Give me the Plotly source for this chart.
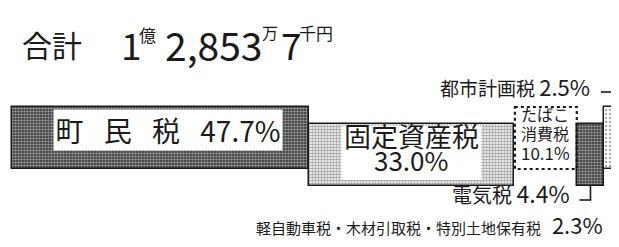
import plotly.graph_objects as go

# ---- data ----
categories = ["町民税", "固定資産税", "たばこ消費税", "電気税", "都市計画税",
              "軽自動車税・木材引取税・特別土地保有税"]
shares = [47.7, 33.0, 10.1, 4.4, 2.5, 2.3]
share_labels = ["47.7%", "33.0%", "10.1%", "4.4%", "2.5%", "2.3%"]
total_parts = ["合計", "1", "億", "2,853", "万", "7", "千円"]

# ---- style / layout ----
W, H = 619, 247
PX0, PXPER = 4.0, 6.22          # pixel of 0%, pixels per %
FONT = "Noto Sans CJK JP"
INK = "#1a1a1a"
UP_C, DOWN_C, THICK = 130.0, 146.5, 62.0
level = ["up", "down", "up", "down", "up", "down"]
pat_shape = [".", ".", "", ".", ".", "/"]
pat_fg = ["#ffffff", "#9a9a9a", "#ffffff", "#ffffff", "#8a8a8a", "#777777"]
pat_bg = ["#2a2a2a", "#ffffff", "#ffffff", "#2a2a2a", "#ffffff", "#ffffff"]
pat_size = [3, 3, 4, 3, 4, 5]
pat_sol = [0.6, 0.55, 0.3, 0.6, 0.25, 0.3]
line_w = [1.5, 1.5, 0, 1.5, 1.5, 1.5]

starts = []
acc = 0.0
for s in shares:
    starts.append(acc)
    acc += s
mids = [st + s / 2 for st, s in zip(starts, shares)]
ycent = [UP_C if lv == "up" else DOWN_C for lv in level]

fig = go.Figure()
fig.add_trace(go.Bar(
    orientation="h",
    y=ycent, x=shares, base=starts, width=[THICK] * len(shares),
    marker=dict(
        color=pat_bg,
        line=dict(color=INK, width=line_w),
        pattern=dict(shape=pat_shape, fgcolor=pat_fg, bgcolor=pat_bg,
                     size=pat_size, solidity=pat_sol, fillmode="overlay"),
    ),
    hoverinfo="skip", showlegend=False,
))

shapes = []
ann = []

def top(i):
    return ycent[i] - THICK / 2

def bot(i):
    return ycent[i] + THICK / 2

# dotted border for たばこ
shapes.append(dict(type="rect", xref="x", yref="y", x0=starts[2] + 0.15, x1=starts[2] + shares[2],
                   y0=top(2), y1=bot(2), line=dict(color=INK, width=2.2, dash="dot"),
                   layer="above"))

# 町民税 label (white box)
ann.append(dict(x=mids[0], y=122, xref="x", yref="y", xshift=8, yanchor="middle",
                text="町\u2002 民\u2002 税\u2002 " + share_labels[0],
                showarrow=False, bgcolor="white", width=226, height=38, borderpad=1,
                font=dict(family=FONT, size=28, color=INK)))

# 固定資産税 label (white box + two lines)
shapes.append(dict(type="rect", xref="x", yref="y", xsizemode="pixel", xanchor=mids[1],
                   x0=-70, x1=70, y0=118, y1=172, fillcolor="white",
                   line=dict(width=0), layer="above"))
ann.append(dict(x=mids[1], y=127, xref="x", yref="y", yanchor="middle", text=categories[1],
                showarrow=False, font=dict(family=FONT, size=27, color=INK)))
ann.append(dict(x=mids[1], y=151, xref="x", yref="y", yanchor="middle", text=share_labels[1],
                showarrow=False, font=dict(family=FONT, size=26, color=INK)))

# たばこ消費税 label
for txt, yy, fs in [("たばこ", 106, 16), ("消費税", 125, 16), (share_labels[2], 144, 17)]:
    ann.append(dict(x=mids[2], y=yy, xref="x", yref="y", yanchor="middle", text=txt,
                    showarrow=False, font=dict(family=FONT, size=fs, color=INK)))

# leader-line labels
def leader(i, y_line, x_off, label, fs_cjk, fs_num, y_text, shift, gap=" "):
    y_edge = top(i) if y_line < ycent[i] else bot(i)
    shapes.append(dict(type="line", xref="x", yref="y", x0=mids[i], x1=mids[i],
                       y0=y_edge, y1=y_line, line=dict(color=INK, width=1.6), layer="above"))
    shapes.append(dict(type="line", xref="x", yref="y", xsizemode="pixel", xanchor=mids[i],
                       x0=x_off, x1=0.8, y0=y_line, y1=y_line, line=dict(color=INK, width=1.6),
                       layer="above"))
    ann.append(dict(x=mids[i], y=y_text, xref="x", yref="y", xanchor="right", yanchor="middle",
                    xshift=shift,
                    text=label + gap + "<span style='font-size:%dpx'>%s</span>" % (fs_num, share_labels[i]),
                    showarrow=False, font=dict(family=FONT, size=fs_cjk, color=INK)))

leader(4, 84, -11, categories[4], 19, 22, 78, -20)
leader(3, 192, -11, categories[3], 20, 23, 185, -18)
leader(5, 225, -12, categories[5], 15, 22, 216, -22, gap="\u2002 ")

# title: 合計 1億2,853万7千円
title_pos = [(12, 36, 30), (111, 36, 37), (129, 26, 17), (155, 36, 39),
             (252, 24, 16), (271, 36, 37), (289, 24, 17)]
for txt, (px, py, fs) in zip(total_parts, title_pos):
    ann.append(dict(x=px / W, y=py, xref="paper", yref="y", xanchor="left", yanchor="middle",
                    text=txt, showarrow=False, font=dict(family=FONT, size=fs, color=INK)))

fig.update_layout(
    width=W, height=H, margin=dict(l=0, r=0, t=0, b=0),
    paper_bgcolor="white", plot_bgcolor="white",
    xaxis=dict(range=[-PX0 / PXPER, (W - PX0) / PXPER], visible=False, fixedrange=True),
    yaxis=dict(range=[H, 0], visible=False, fixedrange=True),
    shapes=shapes, annotations=ann, bargap=0,
)
fig.write_html("out.html")
